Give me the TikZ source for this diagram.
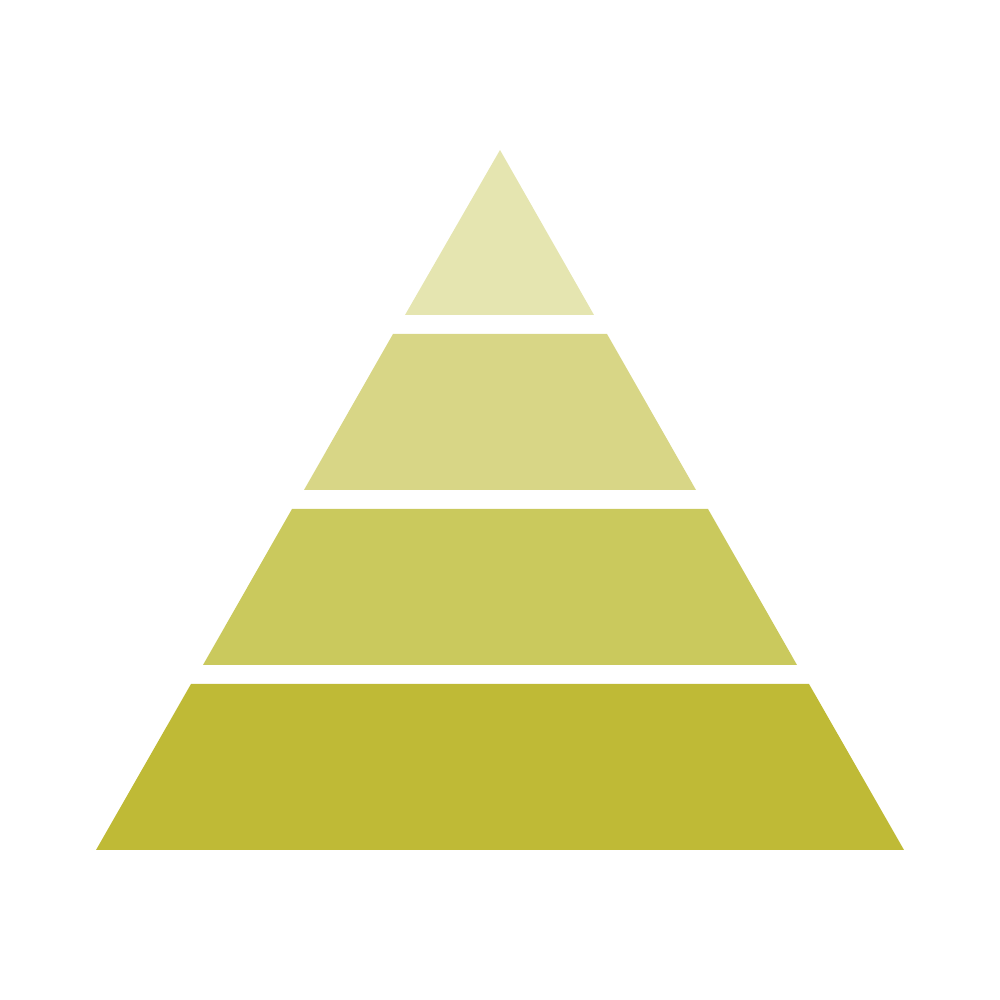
\documentclass[tikz,border=0pt]{standalone}
\usepackage{tikz}

\definecolor{levelA}{HTML}{E5E5B0}
\definecolor{levelB}{HTML}{D8D686}
\definecolor{levelC}{HTML}{CAC95D}
\definecolor{levelD}{HTML}{BFBA36}

\begin{document}
\begin{tikzpicture}
\useasboundingbox (0,0) rectangle (10,10);
\fill[levelA] (5,8.5) -- (4.05,6.85) -- (5.94,6.85) -- cycle;
\fill[levelB] (3.93,6.66) -- (6.07,6.66) -- (6.96,5.10) -- (3.04,5.10) -- cycle;
\fill[levelC] (2.92,4.91) -- (7.08,4.91) -- (7.97,3.35) -- (2.03,3.35) -- cycle;
\fill[levelD] (1.91,3.16) -- (8.09,3.16) -- (9.04,1.50) -- (0.96,1.50) -- cycle;
\end{tikzpicture}
\end{document}
